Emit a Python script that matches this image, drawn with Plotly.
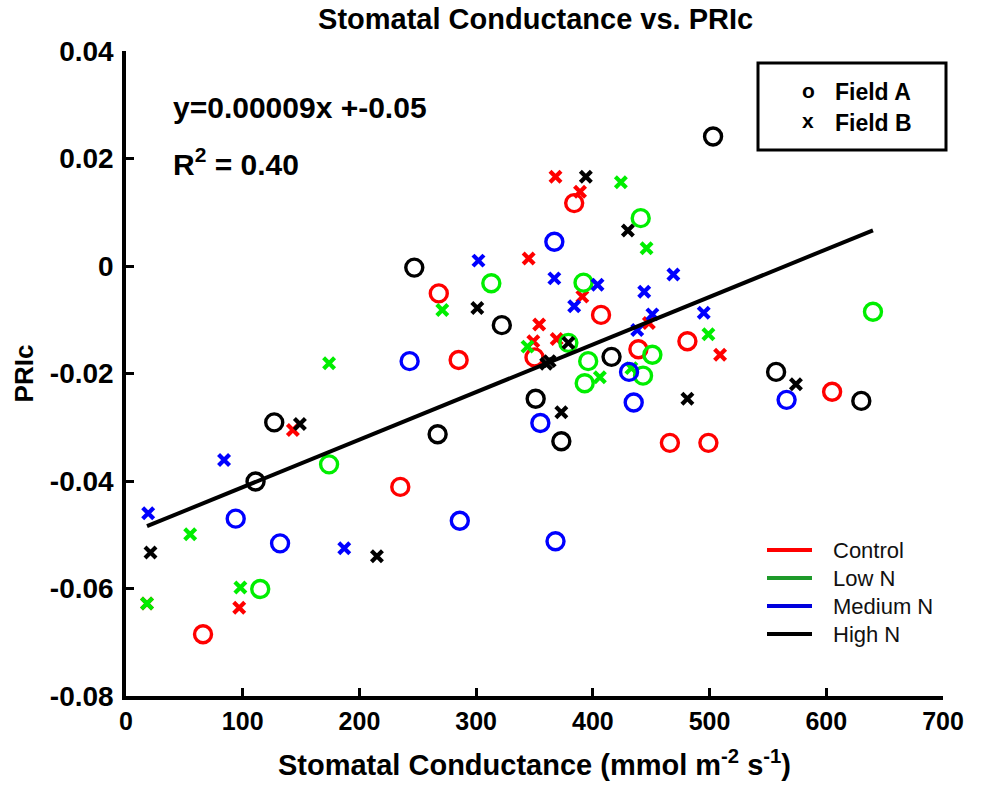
import plotly.graph_objects as go

# ---------------- data ----------------
# Control (red)
ctrl_a_x = [384, 268, 285, 350, 407, 439, 481, 605, 466, 499, 235, 66]
ctrl_a_y = [0.0117, -0.0051, -0.0175, -0.0170, -0.0091, -0.0155, -0.0140, -0.0234, -0.0329, -0.0329, -0.0411, -0.0685]
ctrl_b_x = [368, 389, 345, 391, 354, 369, 349, 448, 509, 143, 18, 97]
ctrl_b_y = [0.0166, 0.0138, 0.0014, -0.0057, -0.0109, -0.0136, -0.0140, -0.0106, -0.0165, -0.0305, -0.0628, -0.0636]

# Low N (green)
low_a_x = [441, 313, 392, 379, 451, 396, 443, 393, 640, 174, 115]
low_a_y = [0.0089, -0.0032, -0.0031, -0.0143, -0.0165, -0.0177, -0.0204, -0.0218, -0.0085, -0.0369, -0.0601]
low_b_x = [424, 446, 344, 433, 406, 499, 271, 174, 55, 98, 18]
low_b_y = [0.0156, 0.0033, -0.0150, -0.0190, -0.0207, -0.0127, -0.0082, -0.0181, -0.0499, -0.0598, -0.0628]

# Medium N (blue)
med_a_x = [367, 243, 431, 435, 566, 355, 286, 94, 132, 368]
med_a_y = [0.0045, -0.0177, -0.0197, -0.0254, -0.0249, -0.0292, -0.0474, -0.0470, -0.0516, -0.0512]
med_b_x = [302, 367, 404, 469, 444, 384, 451, 495, 438, 84, 19, 187]
med_b_y = [0.0010, -0.0023, -0.0035, -0.0016, -0.0048, -0.0075, -0.0090, -0.0087, -0.0119, -0.0361, -0.0460, -0.0525]

# High N (black)
high_a_x = [503, 247, 322, 416, 557, 630, 351, 373, 267, 127, 111]
high_a_y = [0.0241, -0.0003, -0.0110, -0.0169, -0.0197, -0.0251, -0.0247, -0.0326, -0.0313, -0.0291, -0.0401]
high_b_x = [394, 430, 301, 379, 363, 360, 373, 481, 574, 149, 21, 215]
high_b_y = [0.0166, 0.0066, -0.0078, -0.0143, -0.0177, -0.0182, -0.0272, -0.0247, -0.0220, -0.0294, -0.0533, -0.0540]

# regression line
fit_x = [18, 640]
fit_slope = 0.0000885
fit_intercept = -0.0500
fit_y = [fit_slope * v + fit_intercept for v in fit_x]

x_ticks = [0, 100, 200, 300, 400, 500, 600, 700]
y_ticks = [-0.08, -0.06, -0.04, -0.02, 0, 0.02, 0.04]
y_tick_text = ["-0.08", "-0.06", "-0.04", "-0.02", "0", "0.02", "0.04"]

treatments = ["Control", "Low N", "Medium N", "High N"]
marker_colors = ["#ff0000", "#00ee00", "#0000ff", "#000000"]
legend_line_colors = ["#ff0000", "#1e9a2a", "#0000dd", "#000000"]

series = [
    (ctrl_a_x, ctrl_a_y, ctrl_b_x, ctrl_b_y),
    (low_a_x, low_a_y, low_b_x, low_b_y),
    (med_a_x, med_a_y, med_b_x, med_b_y),
    (high_a_x, high_a_y, high_b_x, high_b_y),
]

FONT = "Liberation Sans, Arial, sans-serif"

fig = go.Figure()
for name, col, (ax, ay, bx, by) in zip(treatments, marker_colors, series):
    fig.add_trace(go.Scatter(
        x=ax, y=ay, mode="markers", name=name + " Field A", showlegend=False,
        marker=dict(symbol="circle-open", size=17, color=col, line=dict(width=3.4, color=col)),
    ))
    fig.add_trace(go.Scatter(
        x=bx, y=by, mode="markers", name=name + " Field B", showlegend=False,
        marker=dict(symbol="x-thin-open", size=11, color=col, line=dict(width=4.2, color=col)),
    ))

fig.add_trace(go.Scatter(x=fit_x, y=fit_y, mode="lines", showlegend=False,
                         line=dict(color="black", width=4)))

L, R, T, B = 126, 38, 51, 97
W, H = 981, 793
pw, ph = W - L - R, H - T - B


def px(x):
    return (x - L) / pw


def py(y):
    return (H - B - y) / ph


shapes = []
annotations = []

# equation text
annotations.append(dict(xref="paper", yref="paper", x=px(171), y=py(108), xanchor="left", yanchor="middle",
                        text="y=0.00009x +-0.05", showarrow=False,
                        font=dict(family=FONT, size=30, color="black", weight="bold")))
annotations.append(dict(xref="paper", yref="paper", x=px(171), y=py(162), xanchor="left", yanchor="middle",
                        text="R<sup>2</sup> = 0.40", showarrow=False,
                        font=dict(family=FONT, size=30, color="black", weight="bold")))

# Field legend box
shapes.append(dict(type="rect", xref="paper", yref="paper", x0=px(758), x1=px(946), y0=py(150), y1=py(63),
                   line=dict(color="black", width=3), fillcolor="white"))
for txt_sym, label, yy in [("o", "Field A", 92), ("x", "Field B", 123)]:
    annotations.append(dict(xref="paper", yref="paper", x=px(808), y=py(yy - 2), xanchor="center", yanchor="middle",
                            text=txt_sym, showarrow=False,
                            font=dict(family=FONT, size=21, color="black", weight="bold")))
    annotations.append(dict(xref="paper", yref="paper", x=px(833), y=py(yy), xanchor="left", yanchor="middle",
                            text=label, showarrow=False,
                            font=dict(family=FONT, size=23, color="black", weight="bold")))

# treatment legend
for i, (name, col) in enumerate(zip(treatments, legend_line_colors)):
    yy = 550 + i * 28
    shapes.append(dict(type="line", xref="paper", yref="paper", x0=px(767), x1=px(812), y0=py(yy), y1=py(yy),
                       line=dict(color=col, width=4)))
    annotations.append(dict(xref="paper", yref="paper", x=px(831), y=py(yy), xanchor="left", yanchor="middle",
                            text=name, showarrow=False,
                            font=dict(family=FONT, size=22, color="#111111")))

fig.update_layout(
    width=W, height=H,
    margin=dict(l=L, r=R, t=T, b=B),
    paper_bgcolor="white", plot_bgcolor="white",
    title=dict(text="Stomatal Conductance vs. PRIc", x=0.546, xanchor="center", y=1 - 19 / H, yanchor="middle",
               yref="container", font=dict(family=FONT, size=29, color="black", weight="bold")),
    shapes=shapes, annotations=annotations,
    showlegend=False,
)
fig.update_xaxes(range=[0, 700], tickvals=x_ticks, ticks="inside", ticklen=8, tickwidth=3, tickcolor="black",
                 showline=True, linecolor="black", linewidth=3.5, showgrid=False, zeroline=False,
                 tickfont=dict(family=FONT, size=25, color="black", weight="bold"),
                 title=dict(text="Stomatal Conductance (mmol m<sup>-2</sup> s<sup>-1</sup>)", standoff=22,
                            font=dict(family=FONT, size=29, color="black", weight="bold")))
fig.update_yaxes(range=[-0.08, 0.04], tickvals=y_ticks, ticktext=y_tick_text, ticks="inside", ticklen=8,
                 tickwidth=3, tickcolor="black", showline=True, linecolor="black", linewidth=3.5,
                 showgrid=False, zeroline=False, ticklabelstandoff=3,
                 tickfont=dict(family=FONT, size=28, color="black", weight="bold"),
                 title=dict(text="PRIc", standoff=10,
                            font=dict(family=FONT, size=26, color="black", weight="bold")))

fig.write_html("out.html")
